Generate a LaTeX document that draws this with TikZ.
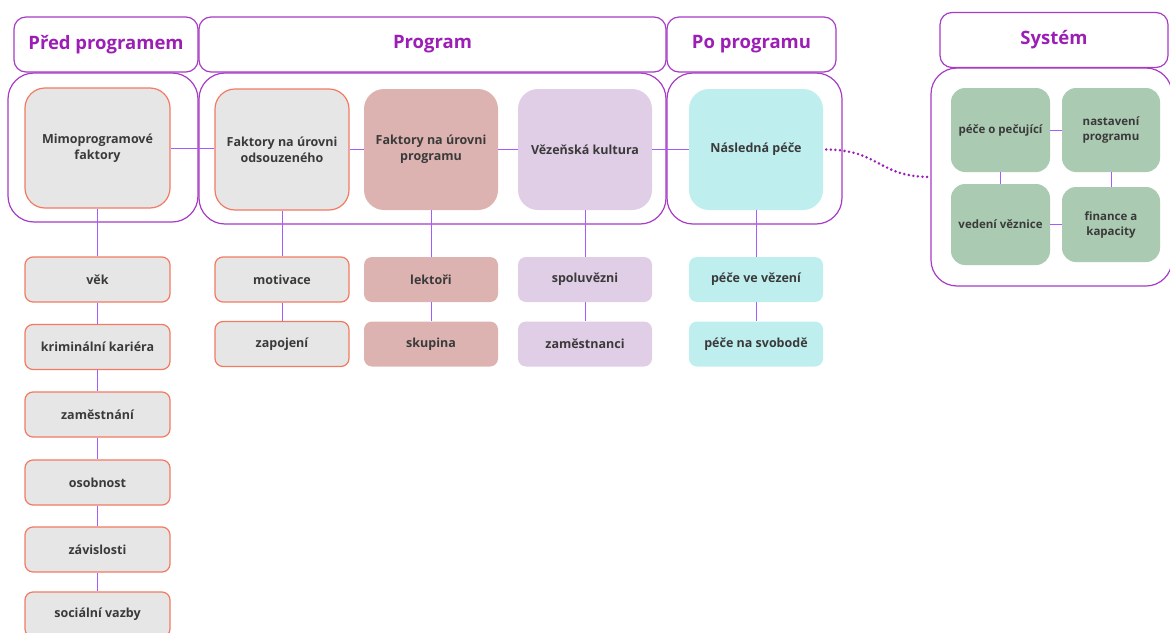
\documentclass[tikz,border=0pt]{standalone}
\usepackage{fontspec}
\setmainfont{Open Sans}
\usetikzlibrary{positioning}
\definecolor{grpline}{HTML}{A63BC4}
\definecolor{hdrtext}{HTML}{9B1FB5}
\definecolor{linkcol}{HTML}{A35CFF}
\definecolor{boxtext}{HTML}{3A3A3A}
\definecolor{greyfill}{HTML}{E6E6E6}
\definecolor{greyline}{HTML}{F27A62}
\definecolor{rosefill}{HTML}{DDB3B1}
\definecolor{lilacfill}{HTML}{E0CDE6}
\definecolor{cyanfill}{HTML}{BFEEEE}
\definecolor{greenfill}{HTML}{ABCAB2}
\tikzset{
  hdr/.style={draw=grpline, line width=1.2pt, rounded corners=12pt,
    text=hdrtext, font=\fontsize{18.5}{22}\selectfont\bfseries},
  grp/.style={draw=grpline, line width=1.2pt, rounded corners=26pt},
  bigbox/.style={rounded corners=20pt, minimum width=134pt, minimum height=121pt,
    align=center, text=boxtext, font=\fontsize{12.5}{16}\selectfont\bfseries},
  smallbox/.style={rounded corners=8pt, minimum width=134pt, minimum height=45pt,
    align=center, text=boxtext, font=\fontsize{12.5}{16}\selectfont\bfseries},
  sysbox/.style={rounded corners=14pt, minimum width=99pt,
    align=center, text=boxtext, font=\fontsize{11.5}{15}\selectfont\bfseries},
  grey/.style={fill=greyfill, draw=greyline, line width=1.2pt},
  link/.style={draw=linkcol, line width=1pt},
}
\begin{document}
\begin{tikzpicture}[x=1pt,y=-1pt]
  \useasboundingbox (0,0) rectangle (1170,632);

  % headers
  \path
  (106,44.5) node[hdr, minimum width=184pt, minimum height=55pt] (prehdr) {Před programem}
  (432.5,44.5) node[hdr, minimum width=467pt, minimum height=55pt] (proghdr) {Program}
  (751.5,44.5) node[hdr, minimum width=169pt, minimum height=55pt] (pohdr) {Po programu}
  (1054,40) node[hdr, minimum width=228pt, minimum height=55pt] (syshdr) {Systém}
  ;

  % groups
  \path
  (103,147.5) node[grp, minimum width=190pt, minimum height=149pt] (pregrp) {}
  (432.5,148.5) node[grp, minimum width=467pt, minimum height=151pt] (proggrp) {}
  (754.5,148.5) node[grp, minimum width=175pt, minimum height=151pt] (pogrp) {}
  (1051.5,177) node[grp, minimum width=241pt, minimum height=218pt] (sysgrp) {}
  ;

  % main factors
  \path
  (97.5,148) node[bigbox, grey, minimum width=145pt, minimum height=120pt] (mimo) {Mimoprogramové\\faktory}
  (282,149.5) node[bigbox, grey] (fods) {Faktory na úrovni\\odsouzeného}
  (431,149.5) node[bigbox, fill=rosefill] (fprog) {Faktory na úrovni\\programu}
  (585,149.5) node[bigbox, fill=lilacfill] (vez) {Vězeňská kultura}
  (756,149.5) node[bigbox, fill=cyanfill] (nasl) {Následná péče}
  ;
  \draw[link] (mimo.east) -- (fods.west |- mimo.east);
  \draw[link] (fods) -- (fprog) -- (vez) -- (nasl);

  % before the programme
  \path
  (97.5,279.5) node[smallbox, grey, minimum width=145pt] (vek) {věk}
  (97.5,347) node[smallbox, grey, minimum width=145pt] (krim) {kriminální kariéra}
  (97.5,414.5) node[smallbox, grey, minimum width=145pt] (zam) {zaměstnání}
  (97.5,482.5) node[smallbox, grey, minimum width=145pt] (osob) {osobnost}
  (97.5,549.5) node[smallbox, grey, minimum width=145pt] (zav) {závislosti}
  (97.5,614.5) node[smallbox, grey, minimum width=145pt] (soc) {sociální vazby}
  ;
  \draw[link] (mimo) -- (vek) -- (krim) -- (zam) -- (osob) -- (zav) -- (soc);

  % programme
  \path
  (282,279.5) node[smallbox, grey] (motiv) {motivace}
  (282,344) node[smallbox, grey] (zapoj) {zapojení}
  (431,279.5) node[smallbox, fill=rosefill] (lekt) {lektoři}
  (431,344) node[smallbox, fill=rosefill] (skup) {skupina}
  (585,279.5) node[smallbox, fill=lilacfill] (spolu) {spoluvězni}
  (585,344) node[smallbox, fill=lilacfill] (zamest) {zaměstnanci}
  (756,279.5) node[smallbox, fill=cyanfill] (pvez) {péče ve vězení}
  (756,344) node[smallbox, fill=cyanfill] (psvob) {péče na svobodě}
  ;
  \draw[link] (fods) -- (motiv) -- (zapoj);
  \draw[link] (fprog) -- (lekt) -- (skup);
  \draw[link] (vez) -- (spolu) -- (zamest);
  \draw[link] (nasl) -- (pvez) -- (psvob);

  % system
  \path
  (1000.5,130) node[sysbox, fill=greenfill, minimum height=84pt] (pecpec) {péče o pečující}
  (1111,130) node[sysbox, fill=greenfill, minimum height=84pt, minimum width=98pt] (nastav) {nastavení\\programu}
  (1000.5,224.5) node[sysbox, fill=greenfill, minimum height=81pt] (vedeni) {vedení věznice}
  (1111,224.5) node[sysbox, fill=greenfill, minimum height=75pt, minimum width=98pt] (fin) {finance a\\kapacity}
  ;
  \draw[link] (pecpec) -- (nastav);
  \draw[link] (pecpec) -- (vedeni);
  \draw[link] (nastav) -- (fin);
  \draw[link] (vedeni) -- (fin);

  \draw[draw=hdrtext, line width=2.8pt, line cap=round, dash pattern=on 0pt off 4.6pt]
  ([xshift=3pt]nasl.east) .. controls (880,150) and (878,177) .. (sysgrp.west);
\end{tikzpicture}
\end{document}
